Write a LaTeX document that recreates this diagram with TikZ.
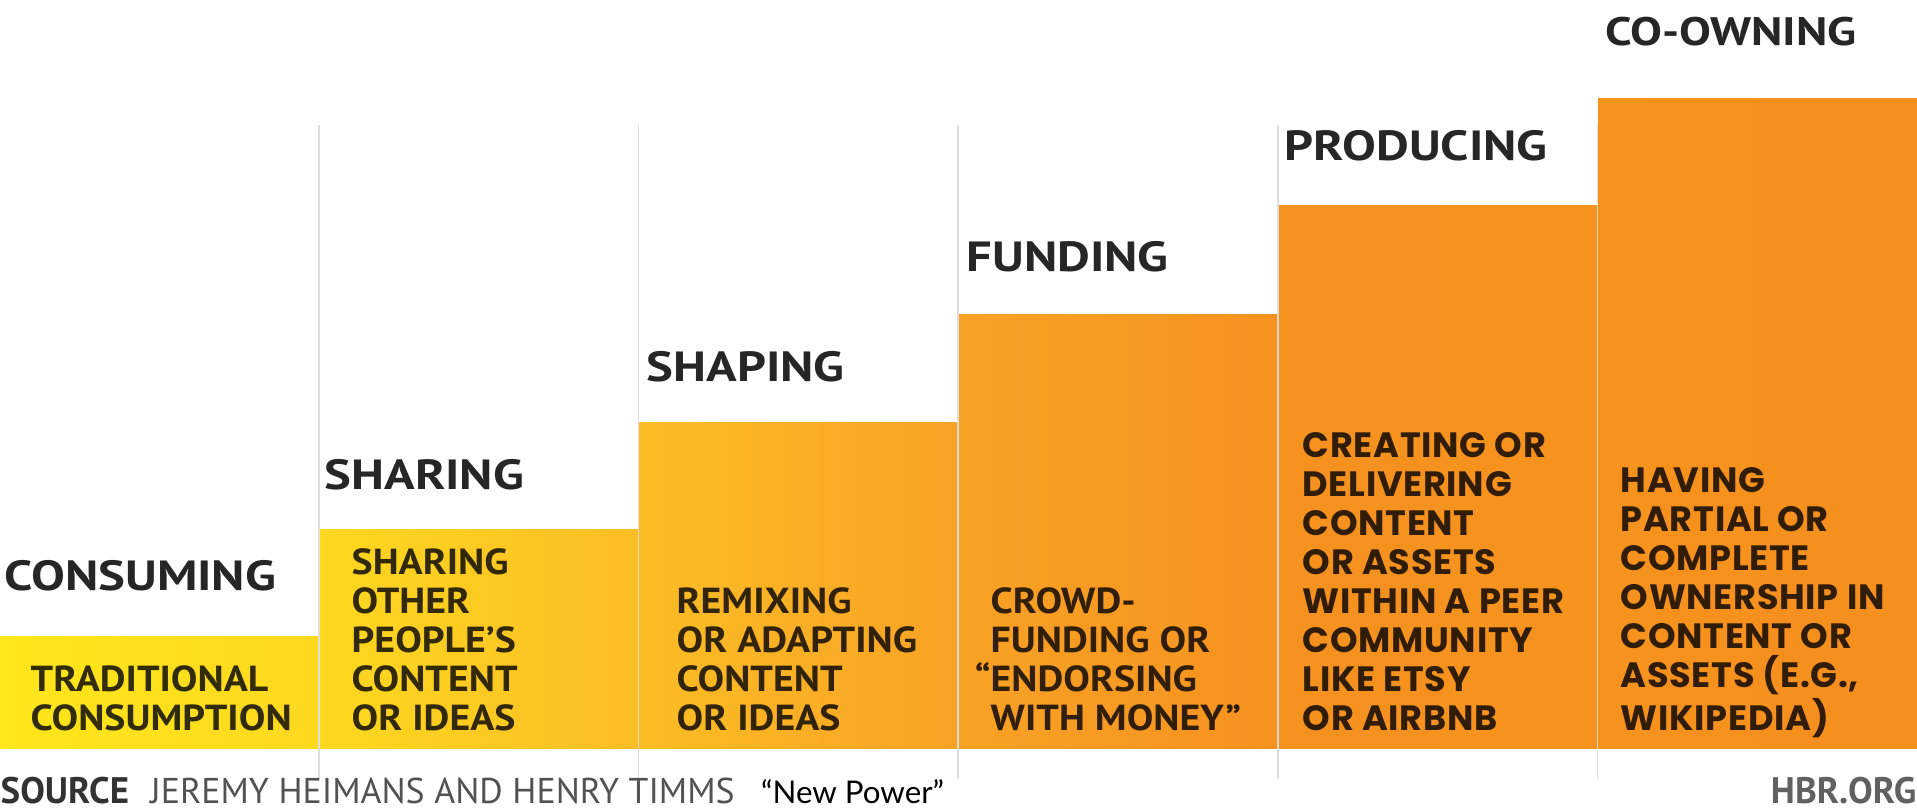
\documentclass[tikz,border=0pt]{standalone}
\usepackage{fontspec}
\newfontfamily\headfont{PT Sans}[FakeStretch=1.2]
\newfontfamily\dinfont{PT Sans}[FakeStretch=1.1]
\newfontfamily\footfont{PT Sans}
\newfontfamily\gothfont{Poppins}[LetterSpace=2]
\newfontfamily\gillfont{Lato}
\usetikzlibrary{positioning}
\definecolor{stopA}{HTML}{FEE71A}
\definecolor{stopB}{HTML}{FDD81F}
\definecolor{stopC}{HTML}{FBBD24}
\definecolor{stopD}{HTML}{F8A225}
\definecolor{stopE}{HTML}{F5921F}
\definecolor{stopF}{HTML}{F6921E}
\definecolor{stopG}{HTML}{F58F1E}
\tikzset{
	bar/.style={
		rectangle,
		inner sep=0pt, outer sep=0pt,
		minimum width=31.8mm,
		anchor=south west},
	head/.style={
		anchor=base west,
		inner sep=0pt,
		text=black!85,
		font=\headfont\bfseries\fontsize{12}{14}\selectfont},
	desc/.style={
		anchor=base west,
		inner sep=0pt,
		align=left,
		text=black, text opacity=0.8,
		font=\dinfont\bfseries\fontsize{10.3}{11.06}\selectfont},
	descwide/.style={
		desc,
		font=\gothfont\bfseries\fontsize{10}{11.06}\selectfont},
	foot/.style={
		inner sep=0pt,
		text=black!68,
		font=\footfont\fontsize{10.2}{12}\selectfont},
	divider/.style={draw=black!13, line width=0.15mm}
}
\begin{document}
\begin{tikzpicture}
[x=0.1mm, y=-0.1mm, node distance=2mm]
\useasboundingbox (0,0) rectangle (1917,809);
% grey column lines
\foreach \x in {319,638.5,958,1278,1597.5}
	\draw[divider] (\x,125) -- (\x,779);
% steps
\node[bar, minimum height=11.2mm, left color=stopA, right color=stopB] (consuming) at (0,748) {};
\node[bar, minimum height=21.9mm, left color=stopB, right color=stopC] (sharing) at (320,748) {};
\node[bar, minimum height=32.6mm, left color=stopC, right color=stopD] (shaping) at (639,748) {};
\node[bar, minimum height=43.4mm, left color=stopD, right color=stopE] (funding) at (959,748) {};
\node[bar, minimum height=54.3mm, left color=stopE, right color=stopF] (producing) at (1279,748) {};
\node[bar, minimum height=65.0mm, minimum width=31.9mm, left color=stopF, right color=stopG] (coowning) at (1598,748) {};
% headings
\node[head] (tconsuming) at ([xshift=0.4mm, yshift=4.6mm]consuming.north west) {CONSUMING};
\node[head] (tsharing) at ([xshift=0.4mm, yshift=4.0mm]sharing.north west) {SHARING};
\node[head] (tshaping) at ([xshift=0.7mm, yshift=4.1mm]shaping.north west) {SHAPING};
\node[head] (tfunding) at ([xshift=0.7mm, yshift=4.3mm]funding.north west) {FUNDING};
\node[head] (tproducing) at ([xshift=0.5mm, yshift=4.5mm]producing.north west) {PRODUCING};
\node[head, font=\headfont\bfseries\fontsize{11.3}{14}\selectfont] (tcoowning) at ([xshift=0.7mm, yshift=5.3mm]coowning.north west) {CO-OWNING};
% texts in the steps
\node[desc] (dconsuming) at ([xshift=3.0mm, yshift=1.8mm]consuming.south west) {TRADITIONAL\\CONSUMPTION};
\node[desc] (dsharing) at ([xshift=3.1mm, yshift=1.8mm]sharing.south west) {SHARING\\OTHER\\PEOPLE’S\\CONTENT\\OR IDEAS};
\node[desc] (dshaping) at ([xshift=3.7mm, yshift=1.8mm]shaping.south west) {REMIXING\\OR ADAPTING\\CONTENT\\OR IDEAS};
\node[desc] (dfunding) at ([xshift=3.1mm, yshift=1.8mm]funding.south west) {CROWD-\\FUNDING OR\\\llap{“}ENDORSING\\WITH MONEY”};
\node[descwide] (dproducing) at ([xshift=2.3mm, yshift=1.8mm]producing.south west) {CREATING OR\\DELIVERING\\CONTENT\\OR ASSETS\\WITHIN A PEER\\COMMUNITY\\LIKE ETSY\\OR AIRBNB};
\node[descwide] (dcoowning) at ([xshift=2.2mm, yshift=1.8mm]coowning.south west) {HAVING\\PARTIAL OR\\COMPLETE\\OWNERSHIP IN\\CONTENT OR\\ASSETS (E.G.,\\WIKIPEDIA)};
% footer
\node[foot, anchor=base west, text=black!80, font=\footfont\bfseries\fontsize{10.5}{12}\selectfont] (source) at (0,803) {SOURCE};
\node[foot, base right=2mm of source] (authors) {JEREMY HEIMANS AND HENRY TIMMS};
\node[foot, base right=2.5mm of authors, text=black, font=\gillfont\fontsize{8.9}{11}\selectfont] (book) {“New Power”};
\node[foot, anchor=base east, text=black!62, font=\footfont\bfseries\fontsize{10.5}{12}\selectfont] (hbr) at (1917,803) {HBR.ORG};
\end{tikzpicture}
\end{document}
